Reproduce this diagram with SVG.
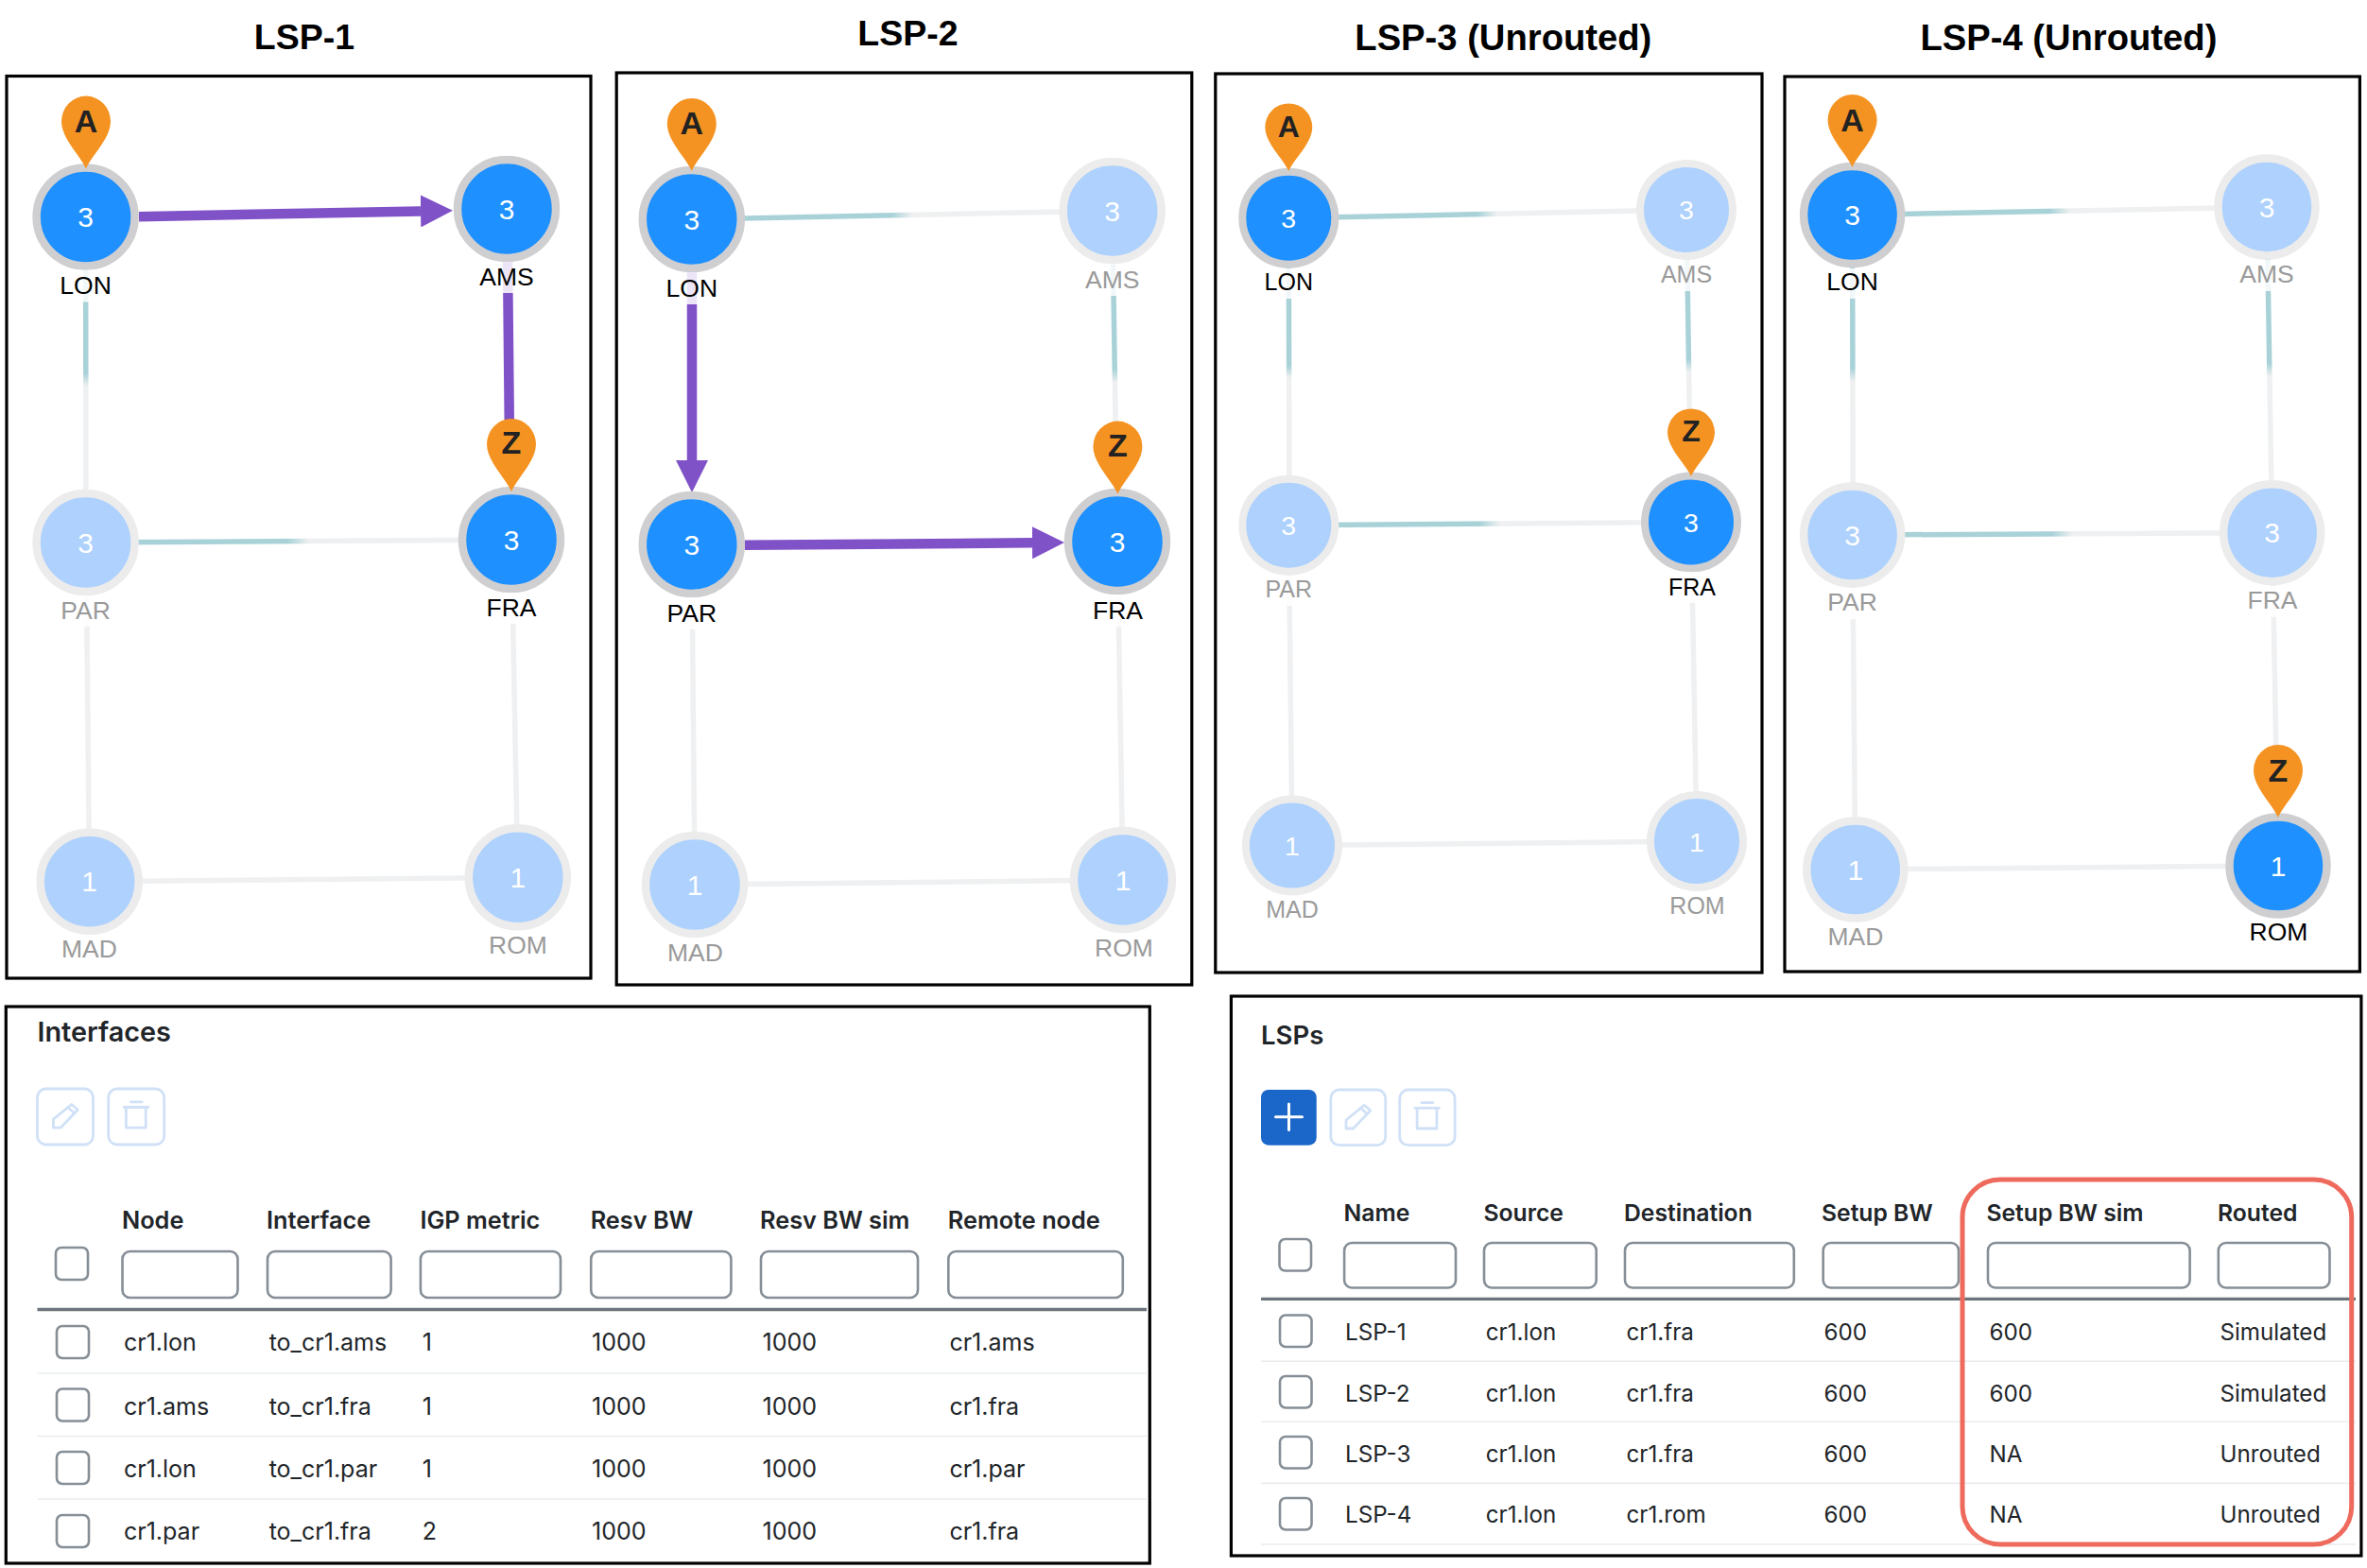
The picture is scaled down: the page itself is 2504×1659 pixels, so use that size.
<svg xmlns="http://www.w3.org/2000/svg" width="2504" height="1659" viewBox="0 0 2504 1659">
<style>
text{font-family:"Liberation Sans",Arial,sans-serif}
.title{font-size:37.5px;font-weight:700;text-anchor:middle;fill:#000}
.wide{font-size:38.2px}
.box{fill:#fff;stroke:#000;stroke-width:3.2}
.n{stroke-width:8.5}
.on{fill:#1e90ff;stroke:#cfcfd1}
.off{fill:#aed1fd;stroke:#ececec}
.v{font-size:30px;fill:#fff;text-anchor:middle}
.halo{fill:#fff;opacity:.85}
.l{font-size:26.5px;text-anchor:middle}
.ld{fill:#000}
.lf{fill:#9a9a9a}
.pl{font-size:34px;font-weight:700;fill:#222;text-anchor:middle}
.pin{fill:#f59322}
.lk{fill:none;stroke-width:5.5}
.g{stroke:#eff0f1}
.gh{stroke:url(#gh)}
.gv{stroke:url(#gv)}
.pp{fill:none;stroke:#8052c8;stroke-width:10.5}
.t text{font-family:Inter,"Liberation Sans",sans-serif}
.h{font-size:24.7px;font-weight:600;fill:#212529}
.c{font-size:24.2px;font-weight:400;fill:#212529}
.tt{font-size:27.5px;font-weight:600;fill:#212529}
#interfaces .h{font-size:25.3px}
#interfaces .c{font-size:25px}
#interfaces .tt{font-size:28.8px}
.p3 .n{stroke-width:8}
.p3 .v{font-size:28.5px}
.p3 .l{font-size:25px}
.p3 .pl{font-size:32px}
.in{fill:#fff;stroke:#868e96;stroke-width:2.6}
.hl{stroke:#6c757d;stroke-width:3.4}
.rl{stroke:#e9ecef;stroke-width:1.6}
.ib{fill:#fff;stroke:#d0e1f7;stroke-width:2.8}
.ic{fill:none;stroke:#d0e1f7;stroke-width:2.8;stroke-linejoin:round;stroke-linecap:round}
</style>
<defs>
<linearGradient id="gh" x1="0" y1="0" x2="1" y2="0"><stop offset=".475" stop-color="#a9d2d8"/><stop offset=".525" stop-color="#eff0f1"/></linearGradient>
<linearGradient id="gv" x1="0" y1="0" x2="0" y2="1"><stop offset=".48" stop-color="#a9d2d8"/><stop offset=".52" stop-color="#eff0f1"/></linearGradient>
<marker id="ah" markerUnits="userSpaceOnUse" markerWidth="34" markerHeight="34" viewBox="0 0 33 33" refX="0" refY="16.5" orient="auto"><path d="M0,0L33,16.5L0,33Z" fill="#8052c8"/></marker>
<path id="pin" class="pin" d="M0,0C-6,-14-26,-32-26,-50A26,27 0 1 1 26,-50C26,-32 6,-14 0,0Z"/>
<g id="pencil" class="ic"><path d="M-12.5,11.7V2.7L6.7,-13L13.3,-7.3L-5,11.7Z"/><path d="M2.7,-10L9.3,-4"/></g>
<g id="trash" class="ic"><path d="M-13,-10H12.5M-6,-15.7H6"/><path d="M-10.8,-10V11.7H10V-10"/></g>
</defs>
<rect width="2504" height="1659" fill="#fff"/>

<g id="titles">
<text class="title" x="322" y="52">LSP-1</text>
<text class="title" x="960.4" y="47.5">LSP-2</text>
<text class="title wide" x="1590.3" y="52.5">LSP-3 (Unrouted)</text>
<text class="title wide" x="2188.4" y="53">LSP-4 (Unrouted)</text>
</g>

<g id="panels">
<rect class="box" x="7" y="80.5" width="618" height="954.5"/>
<rect class="box" x="652.2" y="77" width="608.6" height="965"/>
<rect class="box" x="1285.8" y="78" width="578.2" height="951"/>
<rect class="box" x="1888" y="81" width="608.4" height="947"/>
</g>

<g id="connectors">
<path class="pp" d="M147,229.2L445,223.4" marker-end="url(#ah)"/>
<path class="lk gv" d="M90.6,229.5L91,574"/>
<path class="pp" d="M537,270L539,470"/>
<path class="lk gh" d="M90.6,574L541,571"/>
<path class="lk g" d="M91,574L94.7,932.7"/>
<path class="lk g" d="M541,571L547.8,928.3"/>
<path class="lk g" d="M94.7,932.7L547.8,928.3"/>

<path class="lk gh" d="M731.8,232L1176.7,223"/>
<path class="pp" d="M732,280L732,487" marker-end="url(#ah)"/>
<path class="lk gv" d="M1176.7,223L1182,573"/>
<path class="pp" d="M788,576.7L1092,574.3" marker-end="url(#ah)"/>
<path class="lk g" d="M731.8,576L735,936"/>
<path class="lk g" d="M1182,573L1188,931"/>
<path class="lk g" d="M735,936L1188,931"/>

<path class="lk gh" d="M1363.3,230.8L1784,222"/>
<path class="lk gv" d="M1363.3,230.8L1363.9,555.7"/>
<path class="lk gv" d="M1784,222L1789,552.4"/>
<path class="lk gh" d="M1363.3,555.7L1789,552.4"/>
<path class="lk g" d="M1363.3,555.7L1367,894.6"/>
<path class="lk g" d="M1789,552.4L1795,890"/>
<path class="lk g" d="M1367,894.6L1795,890"/>

<path class="lk gh" d="M1959.6,227.5L2398,219"/>
<path class="lk gv" d="M1959.6,227.5L1960.2,566"/>
<path class="lk gv" d="M2398,219L2403.7,563.7"/>
<path class="lk gh" d="M1959.6,566L2403.7,563.7"/>
<path class="lk g" d="M1959.6,566L1962.8,920"/>
<path class="lk g" d="M2403.7,563.7L2410,916"/>
<path class="lk g" d="M1962.8,920L2410,916"/>
</g>

<g id="p1-lon"><circle class="n on" cx="90.6" cy="229.5" r="52"/><text class="v" x="90.6" y="240">3</text><rect class="halo" x="52" y="285.5" width="78" height="34"/><text class="l ld" x="90.6" y="311">LON</text><use href="#pin" x="91" y="178.6"/><text class="pl" x="91" y="139.7">A</text></g>
<g id="p1-ams"><circle class="n on" cx="536" cy="221" r="52"/><text class="v" x="536" y="231.5">3</text><rect class="halo" x="497" y="277" width="78" height="33"/><text class="l ld" x="536" y="302">AMS</text></g>
<g id="p1-par"><circle class="n off" cx="90.6" cy="574" r="52"/><text class="v" x="90.6" y="584.5">3</text><rect class="halo" x="52" y="630" width="78" height="33"/><text class="l lf" x="90.6" y="655">PAR</text></g>
<g id="p1-fra"><circle class="n on" cx="541" cy="571" r="52"/><text class="v" x="541" y="581.5">3</text><rect class="halo" x="502" y="627" width="78" height="33"/><text class="l ld" x="541" y="652">FRA</text><use href="#pin" x="541" y="520"/><text class="pl" x="541" y="480">Z</text></g>
<g id="p1-mad"><circle class="n off" cx="94.7" cy="932.7" r="52"/><text class="v" x="94.7" y="943.2">1</text><text class="l lf" x="94.5" y="1013.3">MAD</text></g>
<g id="p1-rom"><circle class="n off" cx="547.8" cy="928.3" r="52"/><text class="v" x="547.8" y="938.8">1</text><text class="l lf" x="548" y="1009">ROM</text></g>

<g id="p2-lon"><circle class="n on" cx="731.8" cy="232" r="52"/><text class="v" x="731.8" y="242.5">3</text><rect class="halo" x="693" y="288" width="78" height="34"/><text class="l ld" x="731.8" y="313.5">LON</text><use href="#pin" x="731.8" y="181"/><text class="pl" x="731.8" y="142">A</text></g>
<g id="p2-ams"><circle class="n off" cx="1176.7" cy="223" r="52"/><text class="v" x="1176.7" y="233.5">3</text><rect class="halo" x="1138" y="279" width="78" height="34"/><text class="l lf" x="1176.7" y="305">AMS</text></g>
<g id="p2-par"><circle class="n on" cx="731.8" cy="576" r="52"/><text class="v" x="731.8" y="586.5">3</text><rect class="halo" x="693" y="632" width="78" height="34"/><text class="l ld" x="731.8" y="657.6">PAR</text></g>
<g id="p2-fra"><circle class="n on" cx="1182" cy="573" r="52"/><text class="v" x="1182" y="583.5">3</text><rect class="halo" x="1143" y="629" width="78" height="34"/><text class="l ld" x="1182.5" y="655">FRA</text><use href="#pin" x="1182.4" y="522.6"/><text class="pl" x="1182.4" y="483">Z</text></g>
<g id="p2-mad"><circle class="n off" cx="735" cy="936" r="52"/><text class="v" x="735" y="946.5">1</text><text class="l lf" x="735.5" y="1016.6">MAD</text></g>
<g id="p2-rom"><circle class="n off" cx="1188" cy="931" r="52"/><text class="v" x="1188" y="941.5">1</text><text class="l lf" x="1189" y="1012">ROM</text></g>

<g class="p3">
<g id="p3-lon"><circle class="n on" cx="1363.3" cy="230.8" r="49"/><text class="v" x="1363.3" y="241">3</text><rect class="halo" x="1325" y="284" width="78" height="32"/><text class="l ld" x="1363.3" y="307">LON</text><use href="#pin" transform="translate(1363.3,181) scale(.96,.93)"/><text class="pl" x="1363.3" y="145">A</text></g>
<g id="p3-ams"><circle class="n off" cx="1784" cy="222" r="49"/><text class="v" x="1784" y="232">3</text><rect class="halo" x="1745" y="275" width="78" height="33"/><text class="l lf" x="1784" y="299">AMS</text></g>
<g id="p3-par"><circle class="n off" cx="1363.3" cy="555.7" r="49"/><text class="v" x="1363.3" y="566">3</text><rect class="halo" x="1325" y="609" width="78" height="32"/><text class="l lf" x="1363.3" y="632">PAR</text></g>
<g id="p3-fra"><circle class="n on" cx="1789" cy="552.4" r="49"/><text class="v" x="1789" y="562.5">3</text><rect class="halo" x="1751" y="605" width="78" height="33"/><text class="l ld" x="1790" y="629.5">FRA</text><use href="#pin" transform="translate(1789,504) scale(.96,.93)"/><text class="pl" x="1789" y="467">Z</text></g>
<g id="p3-mad"><circle class="n off" cx="1367" cy="894.6" r="49"/><text class="v" x="1367" y="905">1</text><text class="l lf" x="1367" y="971">MAD</text></g>
<g id="p3-rom"><circle class="n off" cx="1795" cy="890" r="49"/><text class="v" x="1795" y="900.5">1</text><text class="l lf" x="1795.5" y="967">ROM</text></g>
</g>

<g id="p4-lon"><circle class="n on" cx="1959.6" cy="227.5" r="51.5"/><text class="v" x="1959.6" y="238">3</text><rect class="halo" x="1921" y="284" width="78" height="32"/><text class="l ld" x="1959.6" y="307">LON</text><use href="#pin" x="1959.6" y="177"/><text class="pl" x="1959.6" y="139">A</text></g>
<g id="p4-ams"><circle class="n off" cx="2398" cy="219" r="51.5"/><text class="v" x="2398" y="229.5">3</text><rect class="halo" x="2359" y="275" width="78" height="33"/><text class="l lf" x="2398" y="299">AMS</text></g>
<g id="p4-par"><circle class="n off" cx="1959.6" cy="566" r="51.5"/><text class="v" x="1959.6" y="576.5">3</text><rect class="halo" x="1921" y="622" width="78" height="33"/><text class="l lf" x="1959.6" y="646">PAR</text></g>
<g id="p4-fra"><circle class="n off" cx="2403.7" cy="563.7" r="51.5"/><text class="v" x="2403.7" y="574.2">3</text><rect class="halo" x="2365" y="620" width="78" height="33"/><text class="l lf" x="2404" y="643.5">FRA</text></g>
<g id="p4-mad"><circle class="n off" cx="1962.8" cy="920" r="51.5"/><text class="v" x="1962.8" y="930.5">1</text><text class="l lf" x="1963" y="1000">MAD</text></g>
<g id="p4-rom"><circle class="n on" cx="2410" cy="916" r="51.5"/><text class="v" x="2410" y="926.5">1</text><text class="l ld" x="2410.5" y="995">ROM</text><use href="#pin" x="2410" y="865"/><text class="pl" x="2410" y="827">Z</text></g>

<g id="interfaces" class="t">
<rect class="box" x="6.3" y="1065" width="1210" height="589"/>
<text class="tt" x="39.5" y="1101.6">Interfaces</text>
<rect class="ib" x="39.5" y="1152" width="59" height="59" rx="9"/><use href="#pencil" x="69" y="1181.5"/>
<rect class="ib" x="114.7" y="1152" width="59" height="59" rx="9"/><use href="#trash" x="144.2" y="1181.5"/>
<text class="h" x="129" y="1299.7">Node</text><text class="h" x="282" y="1299.7">Interface</text><text class="h" x="444.4" y="1299.7">IGP metric</text><text class="h" x="624.7" y="1299.7">Resv BW</text><text class="h" x="804" y="1299.7">Resv BW sim</text><text class="h" x="1002.8" y="1299.7">Remote node</text>
<rect class="in" x="59" y="1320" width="34" height="34" rx="6"/>
<rect class="in" x="129.5" y="1324" width="122" height="49" rx="8"/><rect class="in" x="283" y="1324" width="130.6" height="49" rx="8"/><rect class="in" x="444.9" y="1324" width="148.1" height="49" rx="8"/><rect class="in" x="625.2" y="1324" width="148.2" height="49" rx="8"/><rect class="in" x="805" y="1324" width="166" height="49" rx="8"/><rect class="in" x="1003.3" y="1324" width="184.5" height="49" rx="8"/>
<line class="hl" x1="39.5" y1="1385.5" x2="1213" y2="1385.5"/>
<line class="rl" x1="39.5" y1="1453" x2="1213" y2="1453"/><line class="rl" x1="39.5" y1="1519.5" x2="1213" y2="1519.5"/><line class="rl" x1="39.5" y1="1586" x2="1213" y2="1586"/>
<rect class="in" x="60" y="1403" width="34" height="34" rx="6"/><rect class="in" x="60" y="1469.5" width="34" height="34" rx="6"/><rect class="in" x="60" y="1536" width="34" height="34" rx="6"/><rect class="in" x="60" y="1603" width="34" height="34" rx="6"/>
<text class="c" x="131" y="1429.4">cr1.lon</text><text class="c" x="284.7" y="1429.4">to_cr1.ams</text><text class="c" x="446.8" y="1429.4">1</text><text class="c" x="626" y="1429.4">1000</text><text class="c" x="806.6" y="1429.4">1000</text><text class="c" x="1004.4" y="1429.4">cr1.ams</text>
<text class="c" x="131" y="1496.6">cr1.ams</text><text class="c" x="284.7" y="1496.6">to_cr1.fra</text><text class="c" x="446.8" y="1496.6">1</text><text class="c" x="626" y="1496.6">1000</text><text class="c" x="806.6" y="1496.6">1000</text><text class="c" x="1004.4" y="1496.6">cr1.fra</text>
<text class="c" x="131" y="1562.6">cr1.lon</text><text class="c" x="284.7" y="1562.6">to_cr1.par</text><text class="c" x="446.8" y="1562.6">1</text><text class="c" x="626" y="1562.6">1000</text><text class="c" x="806.6" y="1562.6">1000</text><text class="c" x="1004.4" y="1562.6">cr1.par</text>
<text class="c" x="131" y="1629.4">cr1.par</text><text class="c" x="284.7" y="1629.4">to_cr1.fra</text><text class="c" x="446.8" y="1629.4">2</text><text class="c" x="626" y="1629.4">1000</text><text class="c" x="806.6" y="1629.4">1000</text><text class="c" x="1004.4" y="1629.4">cr1.fra</text>
</g>

<g id="lsps" class="t">
<rect class="box" x="1302.4" y="1054" width="1195.5" height="592"/>
<text class="tt" x="1334" y="1105">LSPs</text>
<rect x="1334" y="1153" width="58.7" height="58.7" rx="8" fill="#1a66c9"/><path d="M1349.5,1181.7H1377.5M1363.5,1168V1195.5" stroke="#fff" stroke-width="3" stroke-linecap="round" fill="none"/>
<rect class="ib" x="1407.8" y="1153" width="57.9" height="58.7" rx="9"/><use href="#pencil" x="1436.5" y="1182.3"/>
<rect class="ib" x="1480.7" y="1153" width="58.4" height="58.7" rx="9"/><use href="#trash" x="1509.9" y="1182.3"/>
<text class="h" x="1421.6" y="1291.5">Name</text><text class="h" x="1569.5" y="1291.5">Source</text><text class="h" x="1718" y="1291.5">Destination</text><text class="h" x="1927" y="1291.5">Setup BW</text><text class="h" x="2101.4" y="1291.5">Setup BW sim</text><text class="h" x="2346" y="1291.5">Routed</text>
<rect class="in" x="1353.5" y="1311" width="33.5" height="33.5" rx="6"/>
<rect class="in" x="1422.1" y="1315" width="117.9" height="47.5" rx="8"/><rect class="in" x="1570" y="1315" width="118.7" height="47.5" rx="8"/><rect class="in" x="1719" y="1315" width="178.8" height="47.5" rx="8"/><rect class="in" x="1928.7" y="1315" width="143.3" height="47.5" rx="8"/><rect class="in" x="2103" y="1315" width="213.6" height="47.5" rx="8"/><rect class="in" x="2346.8" y="1315" width="117.7" height="47.5" rx="8"/>
<line class="hl" x1="1334" y1="1374.4" x2="2492" y2="1374.4"/>
<line class="rl" x1="1334" y1="1440.3" x2="2492" y2="1440.3"/><line class="rl" x1="1334" y1="1504.3" x2="2492" y2="1504.3"/><line class="rl" x1="1334" y1="1569.4" x2="2492" y2="1569.4"/><line class="rl" x1="1334" y1="1634" x2="2492" y2="1634"/>
<rect class="in" x="1354" y="1391.5" width="33.5" height="33.5" rx="6"/><rect class="in" x="1354" y="1456" width="33.5" height="33.5" rx="6"/><rect class="in" x="1354" y="1520" width="33.5" height="33.5" rx="6"/><rect class="in" x="1354" y="1585" width="33.5" height="33.5" rx="6"/>
<text class="c" x="1423" y="1417.8">LSP-1</text><text class="c" x="1571.8" y="1417.8">cr1.lon</text><text class="c" x="1720.5" y="1417.8">cr1.fra</text><text class="c" x="1929.5" y="1417.8">600</text><text class="c" x="2104.5" y="1417.8">600</text><text class="c" x="2348.4" y="1417.8">Simulated</text>
<text class="c" x="1423" y="1482.6">LSP-2</text><text class="c" x="1571.8" y="1482.6">cr1.lon</text><text class="c" x="1720.5" y="1482.6">cr1.fra</text><text class="c" x="1929.5" y="1482.6">600</text><text class="c" x="2104.5" y="1482.6">600</text><text class="c" x="2348.4" y="1482.6">Simulated</text>
<text class="c" x="1423" y="1546.5">LSP-3</text><text class="c" x="1571.8" y="1546.5">cr1.lon</text><text class="c" x="1720.5" y="1546.5">cr1.fra</text><text class="c" x="1929.5" y="1546.5">600</text><text class="c" x="2104.5" y="1546.5">NA</text><text class="c" x="2348.4" y="1546.5">Unrouted</text>
<text class="c" x="1423" y="1611.3">LSP-4</text><text class="c" x="1571.8" y="1611.3">cr1.lon</text><text class="c" x="1720.5" y="1611.3">cr1.rom</text><text class="c" x="1929.5" y="1611.3">600</text><text class="c" x="2104.5" y="1611.3">NA</text><text class="c" x="2348.4" y="1611.3">Unrouted</text>
<rect x="2076" y="1248" width="411.7" height="386" rx="40" fill="none" stroke="#ee6a5c" stroke-width="5"/>
</g>
</svg>
